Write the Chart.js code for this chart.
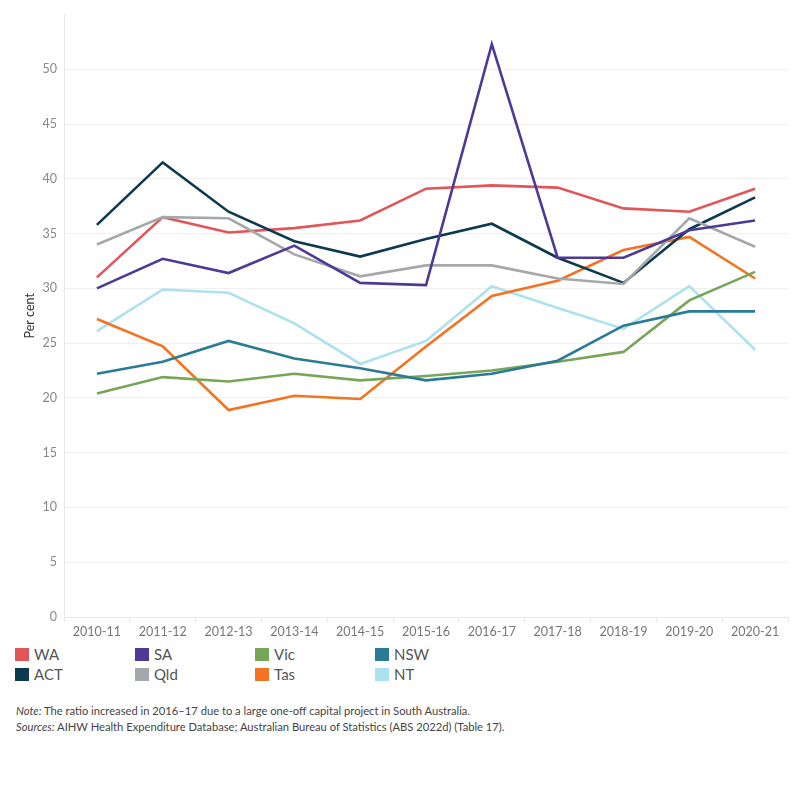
<!DOCTYPE html>
<html>
<head>
<meta charset="utf-8">
<script src="https://cdn.jsdelivr.net/npm/chart.js@4"></script>
<style>
  body { margin: 0; background: #fff; font-family: Lato, "Open Sans", sans-serif; }
  #wrap { position: relative; width: 800px; height: 640px; }
  #legend { position: absolute; left: 15px; top: 648px; width: 500px; }
  .item { position: absolute; font-size: 15px; color: #555; line-height: 13px; white-space: nowrap; }
  .sw { display: inline-block; width: 14px; height: 13px; vertical-align: top; margin-right: 5px; }
  #notes { position: absolute; left: 16px; top: 703px; font-size: 11.2px; color: #444; line-height: 15.5px; }
</style>
</head>
<body>
<div id="wrap"><canvas id="chart" width="800" height="640"></canvas></div>
<div id="legend"></div>
<div id="notes">
  <div><i>Note:</i> The ratio increased in 2016–17 due to a large one-off capital project in South Australia.</div>
  <div><i>Sources:</i> AIHW Health Expenditure Database; Australian Bureau of Statistics (ABS 2022d) (Table 17).</div>
</div>
<script>
// Years
const years = ['2010-11', '2011-12', '2012-13', '2013-14', '2014-15', '2015-16',
  '2016-17', '2017-18', '2018-19', '2019-20', '2020-21'];

// Per cent values
const wa  = [31.0, 36.5, 35.1, 35.5, 36.2, 39.1, 39.4, 39.2, 37.3, 37.0, 39.1];
const sa  = [30.0, 32.7, 31.4, 33.9, 30.5, 30.3, 52.3, 32.8, 32.8, 35.3, 36.2];
const vic = [20.4, 21.9, 21.5, 22.2, 21.6, 22.0, 22.5, 23.3, 24.2, 28.9, 31.5];
const nsw = [22.2, 23.3, 25.2, 23.6, 22.7, 21.6, 22.2, 23.4, 26.6, 27.9, 27.9];
const act = [35.8, 41.5, 37.0, 34.3, 32.9, 34.5, 35.9, 32.8, 30.5, 35.4, 38.3];
const qld = [34.0, 36.5, 36.4, 33.1, 31.1, 32.1, 32.1, 30.9, 30.4, 36.4, 33.8];
const tas = [27.2, 24.7, 18.9, 20.2, 19.9, 24.7, 29.3, 30.7, 33.5, 34.7, 30.9];
const nt  = [26.1, 29.9, 29.6, 26.8, 23.1, 25.2, 30.2, 28.2, 26.3, 30.2, 24.4];

const states = ['WA', 'SA', 'Vic', 'NSW', 'ACT', 'Qld', 'Tas', 'NT'];
const seriesData = [wa, sa, vic, nsw, act, qld, tas, nt];
const colors = ['#e15759', '#4e3a96', '#78a657', '#2a7b96', '#0d3a4f', '#a5a8aa', '#f47321', '#abe2ee'];

// draw order: SA on top, then ACT etc.
const drawOrder = [3, 0, 5, 4, 2, 1, 6, 7];

const ctx = document.getElementById('chart').getContext('2d');
new Chart(ctx, {
  type: 'line',
  data: {
    labels: years,
    datasets: states.map((s, i) => ({
      label: s,
      data: seriesData[i],
      borderColor: colors[i],
      backgroundColor: colors[i],
      borderWidth: 2.6,
      pointRadius: 0,
      tension: 0,
      order: drawOrder[i]
    }))
  },
  options: {
    responsive: false,
    animation: false,
    layout: { padding: { top: 12, right: 12, left: 0, bottom: 0 } },
    plugins: { legend: { display: false }, tooltip: { enabled: false } },
    scales: {
      x: {
        offset: true,
        grid: { offset: true, drawOnChartArea: false, tickLength: 5, color: '#e8e8e8' },
        border: { color: '#e8e8e8' },
        ticks: { color: '#777', font: { family: 'Lato', size: 12.5 }, padding: 2, maxRotation: 0 },
        afterFit: s => { s.width = s.width; s.height = 23; }
      },
      y: {
        min: 0,
        max: 55,
        grid: { color: '#f0f0f0', drawTicks: false },
        border: { color: '#e8e8e8' },
        ticks: {
          stepSize: 5,
          color: '#888',
          padding: 7,
          font: { family: 'Lato', size: 12.5 },
          callback: v => (v > 50 ? null : v)
        },
        title: { display: true, text: 'Per cent', color: '#333', font: { family: 'Lato', size: 12.5 }, padding: { top: 22, bottom: 0 } },
        afterFit: s => { s.width = 64; }
      }
    }
  }
});

// Legend, 4 columns x 2 rows
const legend = document.getElementById('legend');
states.forEach((s, i) => {
  const el = document.createElement('div');
  el.className = 'item';
  el.style.left = (i % 4) * 120 + 'px';
  el.style.top = Math.floor(i / 4) * 19.5 + 'px';
  el.innerHTML = '<span class="sw" style="background:' + colors[i] + '"></span>' + s;
  legend.appendChild(el);
});
</script>
</body>
</html>
